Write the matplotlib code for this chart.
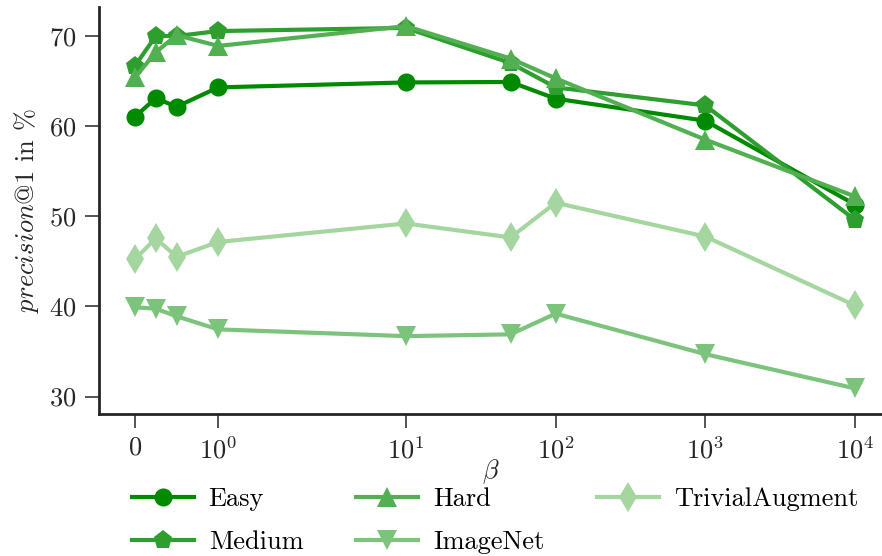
import matplotlib
matplotlib.use("Agg")
import matplotlib.pyplot as plt

plt.rcParams['font.family'] = 'serif'
plt.rcParams['font.serif'] = ['cmr10']
plt.rcParams['mathtext.fontset'] = 'cm'
plt.rcParams['axes.formatter.use_mathtext'] = True
plt.rcParams['axes.unicode_minus'] = False

beta = [0, 0.25, 0.5, 1, 10, 50, 100, 1000, 10000]
easy = [61.05, 63.1, 62.15, 64.3, 64.85, 64.9, 63.05, 60.6, 51.3]
medium = [66.7, 70.0, 70.0, 70.55, 70.9, 67.0, 64.3, 62.3, 49.6]
hard = [65.4, 68.2, 70.1, 68.9, 71.1, 67.5, 65.3, 58.5, 52.2]
imagenet = [39.9, 39.75, 38.9, 37.45, 36.7, 36.9, 39.2, 34.7, 30.9]
trivial = [45.25, 47.55, 45.5, 47.15, 49.2, 47.65, 51.5, 47.75, 40.1]

series = [
    ("Easy", easy, "o", "#008a00", 13),
    ("Medium", medium, "p", "#2e9e2e", 14),
    ("Hard", hard, "^", "#52b052", 14),
    ("ImageNet", imagenet, "v", "#7cc47c", 14),
    ("TrivialAugment", trivial, "d", "#a6d6a0", 15),
]

FS = 19
fig = plt.figure(figsize=(8.82, 5.56), dpi=100)
ax = fig.add_axes([99/882, 1-414/556, 1-99/882, (414-7)/556])

for name, vals, mk, col, ms in series:
    ax.plot(beta, vals, marker=mk, color=col, lw=3.0, ms=ms, label=name,
            markeredgewidth=0)

ax.set_xscale('symlog', linthresh=2)
ax.set_xticks([0, 1, 10, 100, 1000, 10000])
ax.minorticks_off()
ax.set_xlim(-0.433, 15150)
ax.set_ylim(28.06, 73.22)
ax.set_yticks([30, 40, 50, 60, 70])

for s in ['top', 'right']:
    ax.spines[s].set_visible(False)
for s in ['left', 'bottom']:
    ax.spines[s].set_linewidth(2.0)
    ax.spines[s].set_color('#262626')
ax.tick_params(axis='both', which='major', length=10, width=1.1,
               color='#262626', labelsize=FS, pad=6, labelcolor='#262626')

ax.set_ylabel(r"$precision$@1 in %", fontsize=FS, color='#262626', labelpad=6)
ax.set_xlabel(r"$\beta$", fontsize=FS, color='#262626', labelpad=-4)

ax.legend(loc='upper center', bbox_to_anchor=(0.506, -0.181), ncol=3,
          frameon=False, fontsize=FS, handlelength=2.35, handletextpad=0.57,
          columnspacing=2.0, labelspacing=0.72, borderaxespad=0, borderpad=0)

fig.savefig("out.png", dpi=100)
